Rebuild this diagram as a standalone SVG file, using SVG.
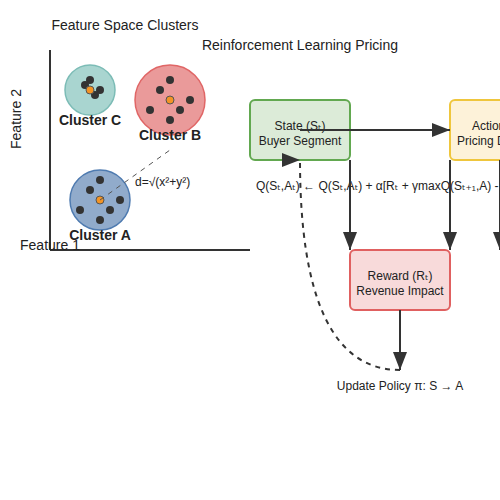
<svg xmlns="http://www.w3.org/2000/svg" width="500" height="500" viewBox="0 0 500 500">
<defs>
<style>
text{font-family:"Liberation Sans",Arial,"DejaVu Sans",sans-serif;fill:#222}
.t14{font-size:14px}
.t12{font-size:12px}
.lbl{font-size:14px;font-weight:bold;text-anchor:middle}
.mid{text-anchor:middle}
.axis{stroke:#333;stroke-width:2;fill:none}
.pt{fill:#333}
.cen{fill:#f39425;stroke:#555;stroke-width:1}
.box{stroke-width:2}
.conn{stroke:#333;stroke-width:2;fill:none}
</style>
<marker id="ah" markerUnits="userSpaceOnUse" markerWidth="18" markerHeight="14" refX="18" refY="7" orient="auto">
<path d="M0,0 L18,7 L0,14 z" fill="#333"/>
</marker>
<marker id="ah0" markerUnits="userSpaceOnUse" markerWidth="18" markerHeight="14" refX="18" refY="7" orient="0">
<path d="M0,0 L18,7 L0,14 z" fill="#333"/>
</marker>
</defs>
<rect width="500" height="500" fill="#fff"/>

<g id="feature-space">
<text class="t14 mid" x="125" y="30">Feature Space Clusters</text>
<line class="axis" x1="50" y1="50" x2="50" y2="250"/>
<line class="axis" x1="50" y1="250" x2="250" y2="250"/>
<text class="t14 mid" x="50" y="250">Feature 1</text>
<text class="t14 mid" x="21" y="119" transform="rotate(-90 21 119)">Feature 2</text>
</g>

<g id="cluster-c">
<circle cx="90" cy="90" r="25" fill="#a9d5d0" stroke="#7cbcb6" stroke-width="1.5"/>
<circle class="pt" cx="90" cy="80" r="4"/>
<circle class="pt" cx="85" cy="85" r="4"/>
<circle class="pt" cx="100" cy="90" r="4"/>
<circle class="pt" cx="95" cy="95" r="4"/>
<circle class="cen" cx="90" cy="90" r="4"/>
<text class="lbl" x="90" y="125">Cluster C</text>
</g>

<g id="cluster-b">
<circle cx="170" cy="100" r="35" fill="#ea9a9a" stroke="#e06666" stroke-width="1.5"/>
<circle class="pt" cx="170" cy="80" r="4"/>
<circle class="pt" cx="160" cy="90" r="4"/>
<circle class="pt" cx="190" cy="100" r="4"/>
<circle class="pt" cx="180" cy="110" r="4"/>
<circle class="pt" cx="170" cy="120" r="4"/>
<circle class="pt" cx="150" cy="110" r="4"/>
<circle class="cen" cx="170" cy="100" r="4"/>
<text class="lbl" x="170" y="140">Cluster B</text>
</g>

<g id="cluster-a">
<circle cx="100" cy="200" r="30" fill="#91abcb" stroke="#4f7bb0" stroke-width="1.5"/>
<circle class="pt" cx="100" cy="180" r="4"/>
<circle class="pt" cx="90" cy="190" r="4"/>
<circle class="pt" cx="120" cy="200" r="4"/>
<circle class="pt" cx="110" cy="210" r="4"/>
<circle class="pt" cx="100" cy="220" r="4"/>
<circle class="pt" cx="80" cy="210" r="4"/>
<circle class="cen" cx="100" cy="200" r="4"/>
<text class="lbl" x="100" y="240">Cluster A</text>
</g>

<g id="distance">
<line x1="100" y1="200" x2="170" y2="150" stroke="#555" stroke-width="1" stroke-dasharray="5,5"/>
<text class="t12" x="135" y="186">d=√(x²+y²)</text>
</g>

<text class="t14 mid" x="300" y="50">Reinforcement Learning Pricing</text>

<g id="state">
<rect class="box" x="250" y="100" width="100" height="60" rx="5" fill="#dcebd8" stroke="#62a850"/>
<text class="t12 mid" x="300" y="130">State (Sₜ)</text>
<text class="t12 mid" x="300" y="145">Buyer Segment</text>
</g>

<g id="action">
<rect class="box" x="450" y="100" width="100" height="60" rx="5" fill="#fdf2d9" stroke="#efc63d"/>
<text class="t12 mid" x="500" y="130">Action (Aₜ)</text>
<text class="t12 mid" x="500" y="145">Pricing Decision</text>
</g>

<g id="reward">
<rect class="box" x="350" y="250" width="100" height="60" rx="5" fill="#f8dada" stroke="#e06060"/>
<text class="t12 mid" x="400" y="280">Reward (Rₜ)</text>
<text class="t12 mid" x="400" y="295">Revenue Impact</text>
</g>

<g id="equation">
<text class="t12" x="256" y="190">Q(Sₜ,Aₜ) ← Q(Sₜ,Aₜ) + α[Rₜ + γmaxQ(Sₜ₊₁,A) - Q(Sₜ,Aₜ)]</text>
</g>

<g id="policy">
<text class="t12 mid" x="400" y="390">Update Policy π: S → A</text>
</g>

<g id="connectors">
<line class="conn" x1="300" y1="130" x2="450" y2="130" marker-end="url(#ah)"/>
<line class="conn" x1="350" y1="160" x2="350" y2="250" marker-end="url(#ah)"/>
<line class="conn" x1="450" y1="160" x2="450" y2="250" marker-end="url(#ah)"/>
<line class="conn" x1="500" y1="160" x2="500" y2="250" marker-end="url(#ah)"/>
<line class="conn" x1="400" y1="310" x2="400" y2="370" marker-end="url(#ah)"/>
<path class="conn" d="M400,370 Q300,370 300,160" stroke-dasharray="5,5" marker-end="url(#ah0)"/>
</g>
</svg>
